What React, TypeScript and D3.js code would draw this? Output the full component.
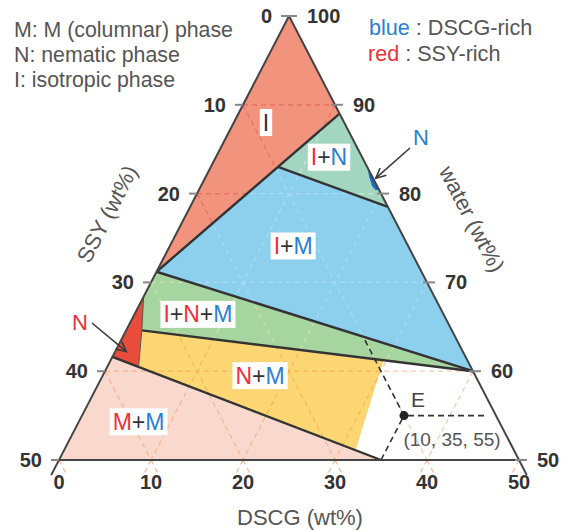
import React from 'react';
import * as d3 from 'd3';

// ---- axis ticks (wt%) ----
const ssyTicks = [0, 10, 20, 30, 40, 50];
const waterTicks = [100, 90, 80, 70, 60, 50];
const dscgTicks = [0, 10, 20, 30, 40, 50];
const gridSteps = [10, 20, 30, 40];

// ---- phase regions, vertices as [SSY, DSCG] wt% (water = 100 - SSY - DSCG) ----
const regionI = [[0, 0], [0, 11], [28.8, 0]];
const regionIN = [[0, 11], [0, 21.5], [9.7, 7.3]];
const regionIM = [[28.8, 0], [9.7, 7.3], [0, 21.5], [0, 40]];
const regionINM = [[28.8, 0], [0, 40], [33.7, 1.7], [31.6, 0]];
const regionNssy = [[31.6, 0], [33.7, 1.7], [36.1, 3.4], [38.4, 0]];
const regionNM = [[33.7, 1.7], [9.1, 29.7], [17.2, 31.7], [36.1, 3.4]];
const regionMM = [[38.4, 0], [15, 35], [50, 0]];
const regionE = [[9.1, 29.7], [0, 40], [0, 50], [15, 35], [17.2, 31.7]];
const regionNdscg = [[0, 17], [0.35, 17.8], [0.55, 18.6], [0.4, 19.2], [0, 19.6]];

// ---- boundary (tie) lines ----
const tieLines = [
  [[28.8, 0], [0, 11]],
  [[9.7, 7.3], [0, 21.5]],
  [[28.8, 0], [0, 40]],
  [[33.7, 1.7], [0, 40]],
  [[38.4, 0], [15, 35]],
];
const nSide = [[31.6, 0], [33.7, 1.7], [36.1, 3.4]];

// ---- point E (SSY, DSCG, water) ----
const pointE = [10, 35, 55];
const eGuideS = [[10, 26.1], [10, 35]];
const eGuideD = [[10, 35], [15, 35]];
const eGuideW = [[10, 35], [1.2, 43.8]];

// ---- phase labels: text parts + anchor [SSY, DSCG] ----
const RED = '#e8323c';
const BLUE = '#2b80d0';
const DARK = '#333333';
const labelI = [['I', DARK]];
const labelIN = [['I', RED], ['+', DARK], ['N', BLUE]];
const labelIM = [['I', RED], ['+', DARK], ['M', BLUE]];
const labelINM = [['I', RED], ['+', DARK], ['N', RED], ['+', DARK], ['M', BLUE]];
const labelNM = [['N', RED], ['+', DARK], ['M', BLUE]];
const labelMM = [['M', RED], ['+', DARK], ['M', BLUE]];
const labelAnchors = [[8.5, 3.5], [3.6, 12.3], [12.5, 13.4], [26.7, 6.9], [23.4, 17.1], [39.2, 6.5]];

const legendLeft = ['M: M (columnar) phase', 'N: nematic phase', 'I: isotropic phase'];

const charW: Record<string, number> = { I: 0.278, '+': 0.584, N: 0.722, M: 0.833 };

export default function App() {
  const W = 570;
  const H = 532;
  const ySum = d3.scaleLinear().domain([0, 50]).range([16, 460]);
  const xDiff = d3.scaleLinear().domain([-50, 50]).range([59, 519]);
  const P = (s: number, d: number): [number, number] => [xDiff(d - s), ySum(s + d)];
  const line = d3
    .line<number[]>()
    .x((p) => P(p[0], p[1])[0])
    .y((p) => P(p[0], p[1])[1]);
  const poly = (pts: number[][]) => (line(pts) as string) + 'Z';

  const regions = [
    { id: 'rI', pts: regionI, fill: '#f2937d', grid: '#e4705e' },
    { id: 'rIN', pts: regionIN, fill: '#a3d6c0', grid: '#c6e8d8' },
    { id: 'rIM', pts: regionIM, fill: '#8dd0ee', grid: '#a9dbf2' },
    { id: 'rINM', pts: regionINM, fill: '#a7d5a0', grid: '#cde2a0' },
    { id: 'rNs', pts: regionNssy, fill: '#e84c3b', grid: '#ee7a60' },
    { id: 'rNM', pts: regionNM, fill: '#fdd674', grid: '#f6b64e' },
    { id: 'rMM', pts: regionMM, fill: '#f9d9cd', grid: '#f5b48e' },
    { id: 'rE', pts: regionE, fill: '#ffffff', grid: '#f9c9a6' },
  ];

  const gridSegs: number[][][] = [];
  gridSteps.forEach((v) => {
    gridSegs.push([[v, 0], [v, 50 - v]]);
    gridSegs.push([[0, v], [50 - v, v]]);
    gridSegs.push([[v, 0], [0, v]]);
  });
  const ext = 1.8;
  const stubs: number[][][] = [];
  dscgTicks.forEach((d) => {
    const s = 50 - d;
    if (d !== 50) stubs.push([[s, d], [s, d + ext]]);
    if (d !== 0) stubs.push([[s, d], [s + ext, d]]);
  });

  const labels = [labelI, labelIN, labelIM, labelINM, labelNM, labelMM];
  const fsLab = 23;

  const font = "'Liberation Sans', Arial, sans-serif";
  const angle = (Math.atan2(ySum(50) - ySum(0), xDiff(0) - xDiff(-50)) * 180) / Math.PI;

  const E = P(pointE[0], pointE[1]);

  const arrow = (x1: number, y1: number, x2: number, y2: number, key: string) => {
    const a = Math.atan2(y2 - y1, x2 - x1);
    const L = 11;
    const da = 0.45;
    const p1 = [x2 - L * Math.cos(a - da), y2 - L * Math.sin(a - da)];
    const p2 = [x2 - L * Math.cos(a + da), y2 - L * Math.sin(a + da)];
    return (
      <g key={key} stroke="#3a3a3a" strokeWidth={1.6} fill="none">
        <line x1={x1} y1={y1} x2={x2} y2={y2} />
        <polyline points={`${p1[0]},${p1[1]} ${x2},${y2} ${p2[0]},${p2[1]}`} />
      </g>
    );
  };

  const [nx, ny] = P(0.3, 18.3);
  const [rx, ry] = P(36.8, 1.0);

  return (
    <svg
      width={W}
      height={H}
      viewBox={`0 0 ${W} ${H}`}
      style={{ position: 'absolute', left: 0, top: 0, background: '#fff' }}
      fontFamily={font}
    >
      <defs>
        {regions.map((r) => (
          <clipPath id={`clip-${r.id}`} key={r.id}>
            <path d={poly(r.pts)} />
          </clipPath>
        ))}
      </defs>

      {regions.map((r) => (
        <path key={r.id} d={poly(r.pts)} fill={r.fill} stroke="none" />
      ))}

      {regions.map((r) => (
        <g key={`g-${r.id}`} clipPath={`url(#clip-${r.id})`}>
          {gridSegs.map((seg, i) => (
            <path key={i} d={line(seg) as string} stroke={r.grid} strokeWidth={1.2} strokeDasharray="5,4" fill="none" />
          ))}
        </g>
      ))}
      {stubs.map((seg, i) => (
        <path key={`st${i}`} d={line(seg) as string} stroke="#f6b894" strokeWidth={1.2} strokeDasharray="5,4" fill="none" />
      ))}

      <path d={poly(regionNdscg)} fill="#1a6cc4" />

      {tieLines.map((seg, i) => (
        <path key={`t${i}`} d={line(seg) as string} stroke="#333" strokeWidth={2.4} fill="none" />
      ))}
      <path d={line(nSide) as string} stroke="#555" strokeWidth={1} fill="none" />

      {[eGuideS, eGuideD, eGuideW].map((seg, i) => (
        <path key={`e${i}`} d={line(seg) as string} stroke="#333" strokeWidth={1.6} strokeDasharray="6,4" strokeDashoffset={-4} fill="none" />
      ))}
      <circle cx={E[0]} cy={E[1]} r={4.5} fill="#222" />

      <path d={line([[0, 0], [51.7, 0]]) as string} stroke="#444" strokeWidth={2} fill="none" />
      <path d={line([[0, 0], [0, 51.7]]) as string} stroke="#444" strokeWidth={2} fill="none" />
      <path d={line([[50, 0], [0, 50]]) as string} stroke="#444" strokeWidth={2} fill="none" />

      {ssyTicks.map((s) => {
        const [x, y] = P(s, 0);
        return (
          <g key={`ls${s}`}>
            <line x1={x - 8} x2={x} y1={y} y2={y} stroke="#888" strokeWidth={2} />
            <text x={x - 17} y={y + 7} textAnchor="end" fontSize={20} fontWeight="bold" fill="#333">
              {s}
            </text>
          </g>
        );
      })}
      {waterTicks.map((w) => {
        const [x, y] = P(0, 100 - w);
        return (
          <g key={`rw${w}`}>
            <line x1={x - 4} x2={x + 8} y1={y} y2={y} stroke="#888" strokeWidth={2} />
            <text x={x + 18} y={y + 7} textAnchor="start" fontSize={20} fontWeight="bold" fill="#333">
              {w}
            </text>
          </g>
        );
      })}
      {dscgTicks.map((d) => {
        const [x] = P(50 - d, d);
        return (
          <text key={`bd${d}`} x={x} y={489} textAnchor="middle" fontSize={20} fontWeight="bold" fill="#333">
            {d}
          </text>
        );
      })}

      <text x={300} y={525} textAnchor="middle" fontSize={22} fill="#555">
        DSCG (wt%)
      </text>
      <text transform={`translate(107,214) rotate(${-angle})`} textAnchor="middle" dy="0.35em" fontSize={22} fill="#555">
        SSY (wt%)
      </text>
      <text transform={`translate(472,219) rotate(${angle})`} textAnchor="middle" dy="0.35em" fontSize={22} fill="#555">
        water (wt%)
      </text>

      {labels.map((parts, i) => {
        const [cx, cy] = P(labelAnchors[i][0], labelAnchors[i][1]);
        const tw = parts.reduce((acc, p) => acc + (charW[p[0]] || 0.6), 0) * fsLab;
        const bw = tw + 6;
        const bh = 27;
        return (
          <g key={`lab${i}`}>
            <rect x={cx - bw / 2} y={cy - bh / 2} width={bw} height={bh} fill="#fff" />
            <text x={cx} y={cy + 8} textAnchor="middle" fontSize={fsLab}>
              {parts.map((p, j) => (
                <tspan key={j} fill={p[1]}>
                  {p[0]}
                </tspan>
              ))}
            </text>
          </g>
        );
      })}

      <text x={418} y={407} textAnchor="middle" fontSize={21} fill="#444">
        E
      </text>
      <text x={452} y={446} textAnchor="middle" fontSize={19} fill="#555">
        ({pointE[0]}, {pointE[1]}, {pointE[2]})
      </text>

      <text x={421} y={145} textAnchor="middle" fontSize={22} fill={BLUE}>
        N
      </text>
      {arrow(410, 148, nx + 4, ny - 3, 'a1')}
      <text x={80} y={330} textAnchor="middle" fontSize={22} fill={RED}>
        N
      </text>
      {arrow(92, 323, rx + 2, ry, 'a2')}

      {legendLeft.map((t, i) => (
        <text key={`lg${i}`} x={14} y={37 + i * 25} fontSize={21.3} fill="#555">
          {t}
        </text>
      ))}
      <text x={369} y={35} fontSize={21.6} fill="#555">
        <tspan fill={BLUE}>blue</tspan> : DSCG-rich
      </text>
      <text x={368} y={61} fontSize={21.6} fill="#555">
        <tspan fill={RED}>red</tspan> : SSY-rich
      </text>
    </svg>
  );
}
